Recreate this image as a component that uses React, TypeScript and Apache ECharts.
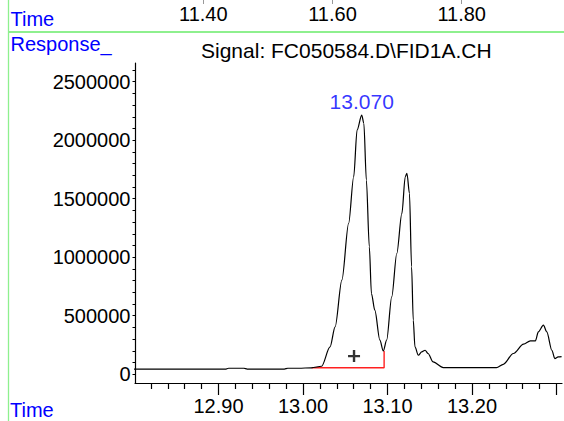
import React, { useEffect, useRef } from "react";
import * as echarts from "echarts";

// Chromatogram signal (retention time in min, detector response)
const times = [
  12.8, 12.85, 12.9, 12.908, 12.912, 12.93, 12.934, 12.938, 12.96, 12.978, 12.982, 12.995,
  13.01, 13.022, 13.032, 13.038, 13.046, 13.054, 13.06, 13.064, 13.0695, 13.072, 13.075,
  13.0785, 13.081, 13.085, 13.091, 13.095, 13.099, 13.105, 13.111, 13.117, 13.121, 13.123,
  13.126, 13.1285, 13.1305, 13.1325, 13.1365, 13.1405, 13.1445, 13.148, 13.154, 13.166,
  13.2, 13.229, 13.237, 13.249, 13.261, 13.269, 13.275, 13.2785, 13.2845, 13.2885, 13.2945,
  13.298, 13.302, 13.306,
];
const responses = [
  43000, 43000, 43000, 43000, 51000, 51000, 44000, 43000, 43000, 44000, 51000, 51000,
  55000, 68000, 233000, 404000, 804000, 1289000, 1688000, 2087000, 2215000, 2144000, 1659000,
  1089000, 690000, 547000, 291000, 199000, 291000, 661000, 1032000, 1374000, 1688000, 1717000,
  1545000, 918000, 462000, 233000, 162000, 191000, 205000, 177000, 105000, 57000,
  56000, 57000, 85000, 177000, 257000, 285000, 285000, 362000, 419000, 362000, 205000,
  134000, 148000, 151000,
];

// Integration baseline (red)
const baselineTimes = [13.0103, 13.096, 13.096];
const baselineValues = [55000, 55000, 199000];

// Peak label
const peakTimes = [13.0695];
const peakHeights = [2215000];
const peakLabels = ["13.070"];

// Area marker "+"
const markerTimes = [13.0604];
const markerValues = [155000];

// Axis ticks / labels
const yLabelValues = [0, 500000, 1000000, 1500000, 2000000, 2500000];
const yTickValues = [
  0, 100000, 200000, 300000, 400000, 500000, 600000, 700000, 800000, 900000, 1000000,
  1100000, 1200000, 1300000, 1400000, 1500000, 1600000, 1700000, 1800000, 1900000, 2000000,
  2100000, 2200000, 2300000, 2400000, 2500000, 2600000,
];
const xMajorValues = [12.9, 13.0, 13.1, 13.2, 13.3];
const xLabelValues = [12.9, 13.0, 13.1, 13.2];
const xMinorValues = [
  12.82, 12.84, 12.86, 12.88, 12.92, 12.94, 12.96, 12.98, 13.02, 13.04, 13.06, 13.08,
  13.12, 13.14, 13.16, 13.18, 13.22, 13.24, 13.26, 13.28,
];
const topLabelValues = [11.4, 11.6, 11.8];

const FONT = "Liberation Sans, Arial, sans-serif";
const BLUE = "#0000ff";
const GREEN = "#8ef08e";

export default function App() {
  const ref = useRef<HTMLDivElement>(null);

  useEffect(() => {
    if (!ref.current) return;
    const chart = echarts.init(ref.current, undefined, { renderer: "svg" });

    const signal = times.map((t, i) => [t, responses[i]]);
    const baseline = baselineTimes.map((t, i) => [t, baselineValues[i]]);
    const peaks = peakTimes.map((t, i) => ({ value: [t, peakHeights[i]], name: peakLabels[i] }));
    const markers = markerTimes.map((t, i) => [t, markerValues[i]]);

    const fmt2 = (v: number) => v.toFixed(2);

    chart.setOption({
      animation: false,
      backgroundColor: "#ffffff",
      grid: [
        { left: 135, right: 2, top: 63, bottom: 38, containLabel: false },
        { left: 0, right: 0, top: -10, height: 8, containLabel: false },
      ],
      xAxis: [
        {
          type: "value",
          gridIndex: 0,
          position: "bottom",
          min: 12.8012,
          max: 13.3065,
          axisLine: { show: true, onZero: false, lineStyle: { color: "#000", width: 1.2 } },
          axisTick: { show: true, customValues: xMajorValues, length: 12, lineStyle: { color: "#000", width: 1.2 } },
          axisLabel: {
            show: true,
            customValues: xLabelValues,
            formatter: fmt2,
            fontSize: 20,
            fontFamily: FONT,
            color: "#000",
            margin: 13,
          },
          splitLine: { show: false },
        },
        {
          type: "value",
          gridIndex: 0,
          position: "bottom",
          min: 12.8012,
          max: 13.3065,
          axisLine: { show: false, onZero: false },
          axisTick: { show: true, customValues: xMinorValues, length: 6, lineStyle: { color: "#000", width: 1.2 } },
          axisLabel: { show: false },
          splitLine: { show: false },
        },
        {
          type: "value",
          gridIndex: 1,
          position: "bottom",
          min: 11.0853,
          max: 11.9584,
          axisLine: { show: false, onZero: false },
          axisTick: { show: true, customValues: topLabelValues, length: 4, lineStyle: { color: "#999", width: 1 } },
          axisLabel: {
            show: true,
            customValues: topLabelValues,
            formatter: fmt2,
            fontSize: 20,
            fontFamily: FONT,
            color: "#000",
            margin: 4.2,
          },
          splitLine: { show: false },
        },
      ],
      yAxis: [
        {
          type: "value",
          gridIndex: 0,
          min: -75000,
          max: 2660000,
          axisLine: { show: true, onZero: false, lineStyle: { color: "#000", width: 1.2 } },
          axisTick: { show: true, customValues: yTickValues, length: 2.5, lineStyle: { color: "#000", width: 1 } },
          axisLabel: {
            show: true,
            customValues: yLabelValues,
            formatter: (v: number) => String(v),
            fontSize: 20,
            fontFamily: FONT,
            color: "#000",
            margin: 4.5,
          },
          splitLine: { show: false },
        },
        { type: "value", gridIndex: 1, show: false, min: 0, max: 1 },
      ],
      graphic: [
        { type: "line", shape: { x1: 8.5, y1: 0, x2: 8.5, y2: 421 }, style: { stroke: GREEN, lineWidth: 1.3 }, silent: true },
        { type: "line", shape: { x1: 8, y1: 32, x2: 564, y2: 32 }, style: { stroke: GREEN, lineWidth: 2 }, silent: true },
        { type: "text", x: 10.5, y: 19.1, style: { text: "Time", fontSize: 20, fontFamily: FONT, fill: BLUE, verticalAlign: "middle", align: "left" } },
        { type: "text", x: 10.5, y: 44.4, style: { text: "Response_", fontSize: 20, fontFamily: FONT, fill: BLUE, verticalAlign: "middle", align: "left" } },
        { type: "text", x: 201, y: 50.7, style: { text: "Signal: FC050584.D\\FID1A.CH", fontSize: 21, fontFamily: FONT, fill: "#000", verticalAlign: "middle", align: "left" } },
        { type: "text", x: 10, y: 409.5, style: { text: "Time", fontSize: 20, fontFamily: FONT, fill: BLUE, verticalAlign: "middle", align: "left" } },
      ],
      series: [
        {
          type: "line",
          xAxisIndex: 0,
          yAxisIndex: 0,
          data: signal,
          showSymbol: false,
          symbol: "none",
          smooth: 0.3,
          smoothMonotone: "x",
          lineStyle: { color: "#000", width: 1.2 },
          z: 3,
        },
        {
          type: "line",
          xAxisIndex: 0,
          yAxisIndex: 0,
          data: baseline,
          showSymbol: false,
          symbol: "none",
          lineStyle: { color: "#ff2020", width: 1.4 },
          z: 2,
        },
        {
          type: "scatter",
          xAxisIndex: 0,
          yAxisIndex: 0,
          data: markers,
          symbol: "path://M4,0h2v4h4v2h-4v4h-2v-4h-4v-2h4z",
          symbolSize: 12,
          itemStyle: { color: "#000" },
          z: 4,
        },
        {
          type: "scatter",
          xAxisIndex: 0,
          yAxisIndex: 0,
          data: peaks,
          symbolSize: 1,
          itemStyle: { color: "rgba(0,0,0,0)" },
          label: {
            show: true,
            position: "top",
            distance: 3,
            formatter: (p: any) => p.name,
            fontSize: 21,
            fontFamily: FONT,
            color: BLUE,
          },
          z: 5,
        },
      ],
    });

    return () => chart.dispose();
  }, []);

  return (
    <div
      ref={ref}
      style={{ position: "fixed", left: 0, top: 0, width: 564, height: 421, background: "#fff" }}
    />
  );
}
